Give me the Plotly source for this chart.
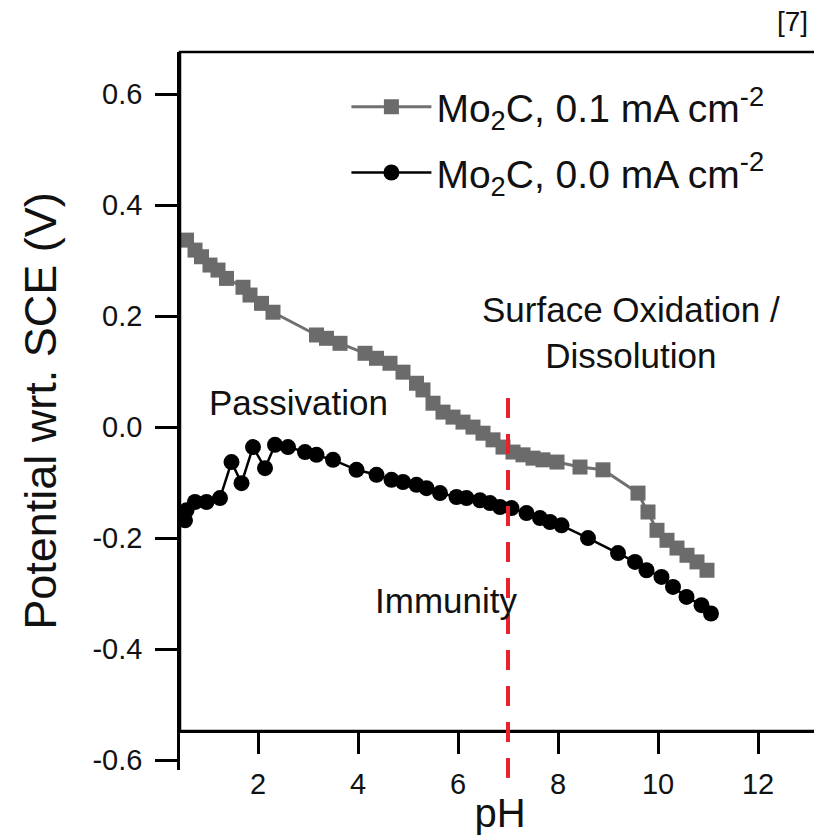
import plotly.graph_objects as go

# Mo2C, 0.1 mA cm-2 (gray squares)
ph_01 = [0.57, 0.74, 0.87, 1.04, 1.20, 1.37, 1.70, 1.84, 2.07, 2.30, 3.17, 3.37, 3.64, 4.14, 4.37,
         4.64, 4.90, 5.17, 5.30, 5.50, 5.70, 5.90, 6.10, 6.30, 6.50, 6.70, 6.90, 7.10, 7.30, 7.50,
         7.70, 7.98, 8.44, 8.90, 9.60, 9.80, 9.98, 10.18, 10.38, 10.58, 10.78, 10.98]
v_01 = [0.337, 0.319, 0.307, 0.292, 0.283, 0.268, 0.252, 0.238, 0.223, 0.207, 0.166, 0.160, 0.151,
        0.133, 0.124, 0.115, 0.099, 0.079, 0.067, 0.043, 0.027, 0.018, 0.009, 0.000, -0.011, -0.023,
        -0.036, -0.045, -0.050, -0.056, -0.059, -0.063, -0.072, -0.077, -0.119, -0.153, -0.186,
        -0.204, -0.218, -0.231, -0.243, -0.258]

# Mo2C, 0.0 mA cm-2 (black circles)
ph_00 = [0.54, 0.57, 0.74, 0.97, 1.24, 1.47, 1.67, 1.90, 2.14, 2.34, 2.60, 2.94, 3.17, 3.50, 3.97,
         4.37, 4.67, 4.90, 5.17, 5.37, 5.64, 5.97, 6.17, 6.44, 6.64, 6.84, 7.07, 7.37, 7.64, 7.84,
         8.07, 8.60, 9.20, 9.54, 9.77, 10.07, 10.30, 10.57, 10.87, 11.06]
v_00 = [-0.168, -0.150, -0.135, -0.135, -0.128, -0.063, -0.101, -0.036, -0.074, -0.032, -0.036,
        -0.045, -0.050, -0.059, -0.077, -0.086, -0.095, -0.099, -0.104, -0.110, -0.119, -0.126,
        -0.128, -0.132, -0.137, -0.144, -0.146, -0.155, -0.164, -0.171, -0.177, -0.200, -0.227,
        -0.243, -0.258, -0.270, -0.288, -0.306, -0.321, -0.336]

x_ticks = [2, 4, 6, 8, 10, 12]
y_ticks = [-0.6, -0.4, -0.2, 0.0, 0.2, 0.4, 0.6]
y_ticktext = ["-0.6", "-0.4", "-0.2", "0.0", "0.2", "0.4", "0.6"]
neutral_ph = 7

FONT = "Liberation Sans, Arial, sans-serif"
TXT = "#111"

fig = go.Figure()
fig.add_trace(go.Scatter(
    x=ph_01, y=v_01, mode="lines+markers",
    name="Mo<sub>2</sub>C, 0.1 mA cm<sup>-2</sup>",
    line=dict(color="#707070", width=3),
    marker=dict(symbol="square", size=15, color="#6b6b6b"),
    legendgroup="a",
))
fig.add_trace(go.Scatter(
    x=ph_00, y=v_00, mode="lines+markers",
    name="Mo<sub>2</sub>C, 0.0 mA cm<sup>-2</sup>",
    line=dict(color="black", width=2.5),
    marker=dict(symbol="circle", size=16, color="black"),
    legendgroup="b",
))

xpos = 0.0543
fig.update_layout(
    width=814, height=827,
    margin=dict(l=172, r=2, t=44, b=65),
    paper_bgcolor="white", plot_bgcolor="white",
    font=dict(family=FONT, color=TXT),
    showlegend=True,
    legend=dict(x=0.26, y=0.968, xanchor="left", yanchor="top",
                font=dict(size=39, family=FONT, color=TXT),
                itemwidth=80, tracegroupgap=12, traceorder="grouped",
                bgcolor="rgba(0,0,0,0)"),
    xaxis=dict(range=[0.44, 13.24], anchor="free", position=xpos,
               showline=True, linewidth=2.5, linecolor="black",
               ticks="outside", ticklen=21, tickwidth=2.5, tickcolor="black",
               tickvals=x_ticks, tickfont=dict(size=29, family=FONT, color=TXT),
               ticklabelstandoff=5,
               showgrid=False, zeroline=False,
               title=dict(text="pH", font=dict(size=40, family=FONT, color=TXT), standoff=0)),
    yaxis=dict(range=[-0.618, 0.676],
               showline=True, linewidth=2.5, linecolor="black",
               ticks="outside", ticklen=22, tickwidth=2.5, tickcolor="black",
               tickvals=y_ticks, ticktext=y_ticktext,
               tickfont=dict(size=29, family=FONT, color=TXT),
               ticklabelstandoff=7,
               showgrid=False, zeroline=False,
               title=dict(text="Potential wrt. SCE (V)", font=dict(size=45, family=FONT, color=TXT),
                          standoff=22)),
    shapes=[
        dict(type="rect", xref="paper", yref="paper", x0=0, x1=1, y0=xpos, y1=1,
             line=dict(color="black", width=2.5), fillcolor="rgba(0,0,0,0)", layer="above"),
        dict(type="line", xref="x", yref="paper", x0=neutral_ph, x1=neutral_ph, y0=-0.011, y1=0.539,
             line=dict(color="#e8212b", width=4, dash="20px,16px"), layer="above"),
    ],
    annotations=[
        dict(text="[7]", xref="paper", yref="paper", x=0.984, y=1.042, xanchor="right", yanchor="middle",
             showarrow=False, font=dict(size=28, family=FONT, color=TXT)),
        dict(text="Surface Oxidation /<br>Dissolution", xref="x", yref="y", x=9.45, y=0.17,
             showarrow=False, font=dict(size=35, family=FONT, color=TXT), align="center"),
        dict(text="Passivation", xref="x", yref="y", x=2.8, y=0.045,
             showarrow=False, font=dict(size=35, family=FONT, color=TXT)),
        dict(text="Immunity", xref="x", yref="y", x=5.75, y=-0.312,
             showarrow=False, font=dict(size=35, family=FONT, color=TXT)),
    ],
)

fig.write_html("out.html")
